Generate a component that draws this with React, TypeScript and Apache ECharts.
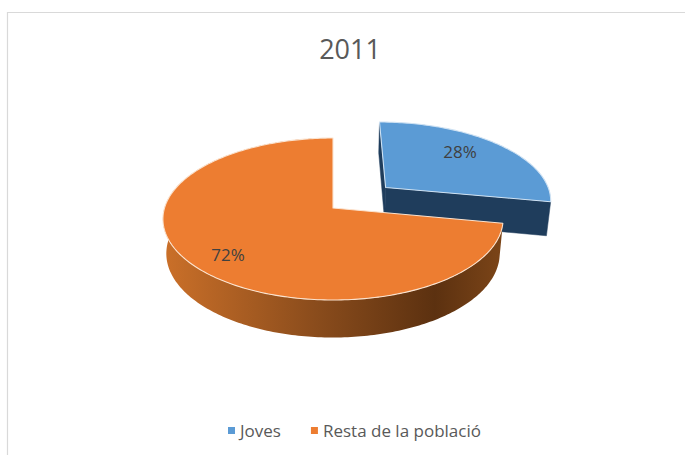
import React, { useEffect, useRef } from "react";
import * as echarts from "echarts";

const titleText = "2011";
const categories = ["Joves", "Resta de la població"];
const values = [28, 72];
const percentLabels = ["28%", "72%"];
const topColors = ["#5B9BD5", "#ED7D31"];

const total = values.reduce((a, b) => a + b, 0);
const X0 = 333, Y0 = 208, R = 168.5, KR = 79.5, P = 0.136, T = 35, A = 0.02;
const EXPLODE = [0.42, 0];
const LABEL_R = [0.733, 0.79];
const LABEL_SHIFT = [-6.2, -3.5];
const rad = (d: number) => (d * Math.PI) / 180;

function project(u: number, v: number, low: boolean): number[] {
  const w = 1 + P * v + (low ? A : 0);
  return [X0 + (R * u) / w, Y0 + (-KR * v + (low ? T : 0)) / w];
}

function sliceRange(i: number) {
  const start = (values.slice(0, i).reduce((a, b) => a + b, 0) / total) * 360;
  return [start, start + (values[i] / total) * 360];
}

function renderSlice(i: number) {
  return (_params: any, api: any) => {
    api.value(0);
    const [a0, a1] = sliceRange(i);
    const mid = (a0 + a1) / 2;
    const ou = EXPLODE[i] * Math.sin(rad(mid));
    const ov = EXPLODE[i] * Math.cos(rad(mid));
    const rim = (low: boolean) => {
      const pts: number[][] = [];
      const n = Math.ceil(a1 - a0);
      for (let k = 0; k <= n; k++) {
        const t = rad(a0 + ((a1 - a0) * k) / n);
        pts.push(project(ou + Math.sin(t), ov + Math.cos(t), low));
      }
      return pts;
    };
    const topRim = rim(false);
    const lowRim = rim(true);
    const apexTop = project(ou, ov, false);
    const apexLow = project(ou, ov, true);
    const children: any[] = [];
    if (i === 0) {
      const dark = "#1F3D5C";
      children.push({
        type: "polygon",
        shape: { points: [topRim[0], apexTop, apexLow, lowRim[0]] },
        style: { fill: dark, stroke: dark, lineWidth: 0.5 },
      });
      children.push({
        type: "polygon",
        shape: { points: [apexTop, topRim[topRim.length - 1], lowRim[lowRim.length - 1], apexLow] },
        style: { fill: dark, stroke: dark, lineWidth: 0.5 },
      });
    } else {
      children.push({
        type: "polygon",
        shape: { points: [...topRim, ...lowRim.slice().reverse()] },
        style: {
          fill: new echarts.graphic.LinearGradient(0, 0, 1, 0, [
            { offset: 0, color: "#CB7029" },
            { offset: 0.45, color: "#8A4C1C" },
            { offset: 0.8, color: "#5C3110" },
            { offset: 1, color: "#7C4518" },
          ]),
        },
      });
    }
    children.push({
      type: "polygon",
      shape: { points: [apexTop, ...topRim] },
      style: { fill: topColors[i], stroke: i === 0 ? "#CFE2F3" : "#FBE3CF", lineWidth: 1.1, lineJoin: "round" },
    });
    const lt = rad(mid + LABEL_SHIFT[i]);
    const lp = project(ou + LABEL_R[i] * Math.sin(lt), ov + LABEL_R[i] * Math.cos(lt), false);
    children.push({
      type: "text",
      style: {
        text: percentLabels[i],
        x: lp[0],
        y: lp[1],
        align: "center",
        verticalAlign: "middle",
        fill: "#404040",
        font: '17px "Open Sans"',
      },
    });
    return { type: "group", children };
  };
}

export default function App() {
  const ref = useRef<HTMLDivElement>(null);
  useEffect(() => {
    const chart = echarts.init(ref.current!, undefined, { renderer: "svg" });
    chart.setOption({
      animation: false,
      backgroundColor: "#FFFFFF",
      title: {
        text: titleText,
        left: 345,
        top: 30,
        textAlign: "center",
        textStyle: { fontFamily: "Open Sans", fontSize: 27, fontWeight: "normal", color: "#595959" },
      },
      legend: {
        data: categories,
        left: 223,
        top: 417,
        icon: "rect",
        itemWidth: 7,
        itemHeight: 7,
        itemGap: 30,
        textStyle: { fontFamily: "Open Sans", fontSize: 17, color: "#595959" },
      },
      graphic: [
        {
          type: "rect",
          silent: true,
          z: -1,
          shape: { x: 7.5, y: 12.5, width: 720, height: 500 },
          style: { fill: "none", stroke: "#D9D9D9", lineWidth: 1.2 },
        },
      ],
      series: categories.map((name, i) => ({
        type: "custom",
        name,
        coordinateSystem: "none",
        itemStyle: { color: topColors[i] },
        renderItem: renderSlice(i),
        data: [[values[i]]],
        silent: true,
      })),
    });
    return () => chart.dispose();
  }, []);
  return <div ref={ref} style={{ position: "absolute", left: 0, top: 0, width: 685, height: 455 }} />;
}
